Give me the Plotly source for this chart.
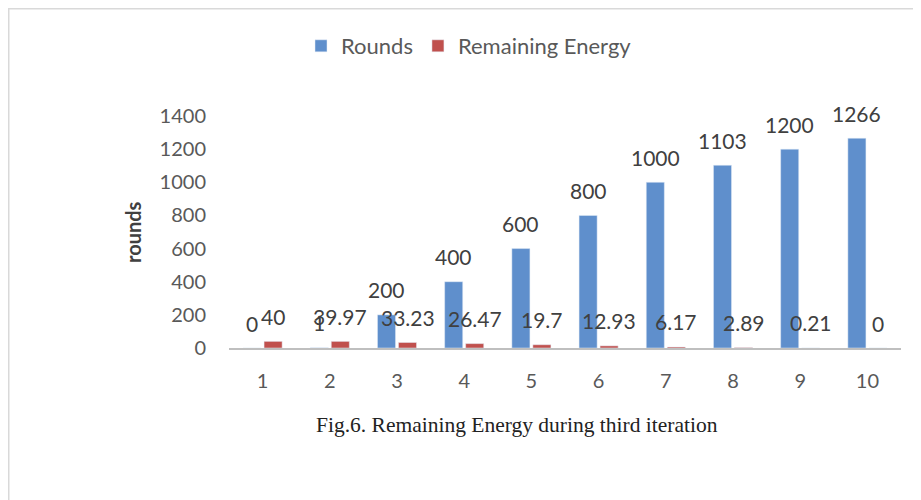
import plotly.graph_objects as go

categories = ["1", "2", "3", "4", "5", "6", "7", "8", "9", "10"]
rounds = [0, 1, 200, 400, 600, 800, 1000, 1103, 1200, 1266]
energy = [40, 39.97, 33.23, 26.47, 19.7, 12.93, 6.17, 2.89, 0.21, 0]
y_ticks = [0, 200, 400, 600, 800, 1000, 1200, 1400]

OFF = 8  # page body margin
W, H = 913, 492
L, T = 229 - OFF, 116 - OFF
R = W - (901 - OFF)
B = H - (348 - OFF)
PW, PH = W - L - R, H - T - B


def px(x):  # screen x -> paper
    return (x - OFF - L) / PW


def py(y):  # screen y -> paper
    return (H - B - (y - OFF)) / PH


FONT = "Lato"
BLUE, RED = "#5f8fcc", "#c0504d"

fig = go.Figure()
fig.add_trace(go.Bar(x=categories, y=rounds, name="Rounds", marker=dict(color=BLUE)))
fig.add_trace(go.Bar(x=categories, y=energy, name="Remaining Energy", marker=dict(color=RED)))

annotations = []
for series, shift in ((rounds, -10.5), (energy, 10.5)):
    for i, v in enumerate(series):
        annotations.append(dict(
            x=i, y=v, xref="x", yref="y", text=str(v), showarrow=False,
            xanchor="center", yanchor="middle", xshift=shift, yshift=25,
            font=dict(family=FONT, size=21, color="#404040"),
        ))

annotations += [
    dict(text="<b>rounds</b>", x=px(133), y=0.5, xref="paper", yref="paper",
         xanchor="center", yanchor="middle",
         textangle=-90, showarrow=False, font=dict(family=FONT, size=20, color="#404040")),
    dict(text="Fig.6. Remaining Energy during third iteration", x=px(517), y=py(425),
         xref="paper", yref="paper", xanchor="center", yanchor="middle", showarrow=False,
         font=dict(family="Liberation Serif", size=21.5, color="#222222")),
]

fig.update_layout(
    width=W, height=H,
    margin=dict(l=L, r=R, t=T, b=B, autoexpand=False),
    paper_bgcolor="white", plot_bgcolor="white",
    barmode="group", bargap=0.375, bargroupgap=0.14,
    font=dict(family=FONT, color="#595959", size=18),
    legend=dict(orientation="h", x=px(469), y=py(46), xanchor="center", yanchor="middle",
                font=dict(family=FONT, size=22, color="#595959"), itemwidth=30,
                bgcolor="rgba(0,0,0,0)"),
    xaxis=dict(type="category", showline=True, linecolor="#bfbfbf", linewidth=2,
               showgrid=False, ticks="", ticklabelstandoff=14,
               tickfont=dict(family=FONT, size=20, color="#595959"), fixedrange=True),
    yaxis=dict(range=[0, 1400], tickvals=y_ticks, showgrid=False, zeroline=False,
               showline=False, ticks="", ticklabelstandoff=22,
               tickfont=dict(family=FONT, size=20, color="#595959"), fixedrange=True),
    annotations=annotations,
    shapes=[
        dict(type="line", xref="paper", yref="paper", x0=px(8.5), x1=px(8.5), y0=py(8), y1=py(500),
             line=dict(color="#d9d9d9", width=2)),
        dict(type="line", xref="paper", yref="paper", x0=px(8), x1=px(921), y0=py(8.5), y1=py(8.5),
             line=dict(color="#d9d9d9", width=2)),
    ],
)

fig.write_html("out.html")
